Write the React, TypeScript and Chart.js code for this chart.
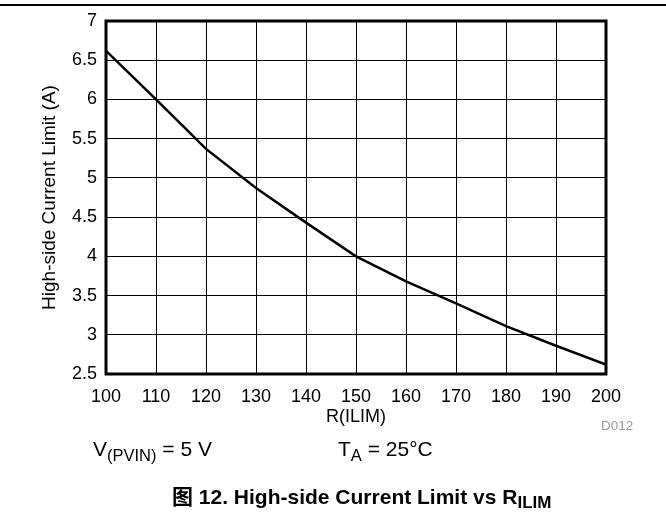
import React, { useEffect, useRef } from "react";
import { Chart, registerables } from "chart.js";

Chart.register(...registerables);

// Data
const rIlim = [100, 110, 120, 130, 140, 150, 160, 170, 180, 190, 200];
const currentLimit = [6.62, 6.0, 5.37, 4.87, 4.43, 4.0, 3.68, 3.4, 3.11, 2.86, 2.62];

// Axis ranges / tick steps
const xMin = 100;
const xMax = 200;
const xStep = 10;
const yMin = 2.5;
const yMax = 7;
const yStep = 0.5;

const xTitle = "R(ILIM)";
const yTitle = "High-side Current Limit (A)";

const FONT = "'Liberation Sans', Arial, Helvetica, sans-serif";

const framePlugin = {
  id: "frame",
  afterDraw(chart: any) {
    const { ctx, chartArea } = chart;
    const { left, top, right, bottom } = chartArea;
    ctx.save();
    ctx.strokeStyle = "#000";
    ctx.lineWidth = 3;
    ctx.strokeRect(left, top, right - left, bottom - top);
    ctx.restore();
  },
};

export default function App() {
  const canvasRef = useRef<HTMLCanvasElement | null>(null);

  useEffect(() => {
    document.body.style.margin = "0";
    const canvas = canvasRef.current;
    if (!canvas) return;
    const chart = new Chart(canvas, {
      type: "line",
      data: {
        datasets: [
          {
            data: rIlim.map((x, i) => ({ x, y: currentLimit[i] })),
            borderColor: "#000",
            borderWidth: 2.5,
            pointRadius: 0,
            tension: 0,
            fill: false,
          },
        ],
      },
      options: {
        responsive: false,
        animation: false,
        devicePixelRatio: 1,
        layout: { padding: { left: 0, top: 21, right: 60, bottom: 0 } },
        plugins: {
          legend: { display: false },
          tooltip: { enabled: false },
        },
        scales: {
          x: {
            type: "linear",
            min: xMin,
            max: xMax,
            afterFit(scale: any) {
              scale.height = 138;
            },
            ticks: {
              stepSize: xStep,
              color: "#000",
              padding: 12,
              maxRotation: 0,
              font: { family: FONT, size: 18 },
            },
            grid: { color: "#000", lineWidth: 1, drawTicks: false },
            border: { display: false },
            title: {
              display: true,
              text: xTitle,
              color: "#000",
              font: { family: FONT, size: 18 },
              padding: { top: 0, bottom: 84 },
            },
          },
          y: {
            type: "linear",
            min: yMin,
            max: yMax,
            afterFit(scale: any) {
              scale.width = 106;
            },
            ticks: {
              stepSize: yStep,
              color: "#000",
              padding: 9,
              font: { family: FONT, size: 18 },
              callback: (v: any) => `${v}`,
            },
            grid: { color: "#000", lineWidth: 1, drawTicks: false },
            border: { display: false },
            title: {
              display: true,
              text: yTitle,
              color: "#000",
              font: { family: FONT, size: 19 },
              padding: { top: 38, bottom: 0 },
            },
          },
        },
      },
      plugins: [framePlugin],
    });
    return () => chart.destroy();
  }, []);

  const textBase: React.CSSProperties = {
    position: "absolute",
    fontFamily: FONT,
    color: "#000",
    whiteSpace: "nowrap",
    lineHeight: "20px",
  };

  return (
    <div
      style={{
        position: "fixed",
        left: 0,
        top: 0,
        width: 666,
        height: 512,
        background: "#fff",
        overflow: "hidden",
      }}
    >
      <div style={{ position: "absolute", left: 0, top: 4, width: 666, height: 2, background: "#000" }} />
      <canvas ref={canvasRef} width={666} height={512} style={{ position: "absolute", left: 0, top: 0, width: 666, height: 512 }} />
      <div style={{ ...textBase, left: 93, top: 439, fontSize: 21 }}>
        V<span style={{ fontSize: 16.5, position: "relative", top: 5 }}>(PVIN)</span> = 5 V
      </div>
      <div style={{ ...textBase, left: 338, top: 439, fontSize: 21 }}>
        T<span style={{ fontSize: 16.5, position: "relative", top: 5 }}>A</span> = 25°C
      </div>
      <div style={{ ...textBase, left: 601, top: 418, fontSize: 13.5, color: "#9a9a9a", lineHeight: "16px" }}>D012</div>
      <div style={{ ...textBase, left: 172, top: 487, fontSize: 21, fontWeight: "bold", fontFamily: "'Liberation Sans', 'Noto Sans CJK SC', Arial, sans-serif" }}>
        图 12. High-side Current Limit vs R
        <span style={{ fontSize: 17, position: "relative", top: 4 }}>ILIM</span>
      </div>
    </div>
  );
}
